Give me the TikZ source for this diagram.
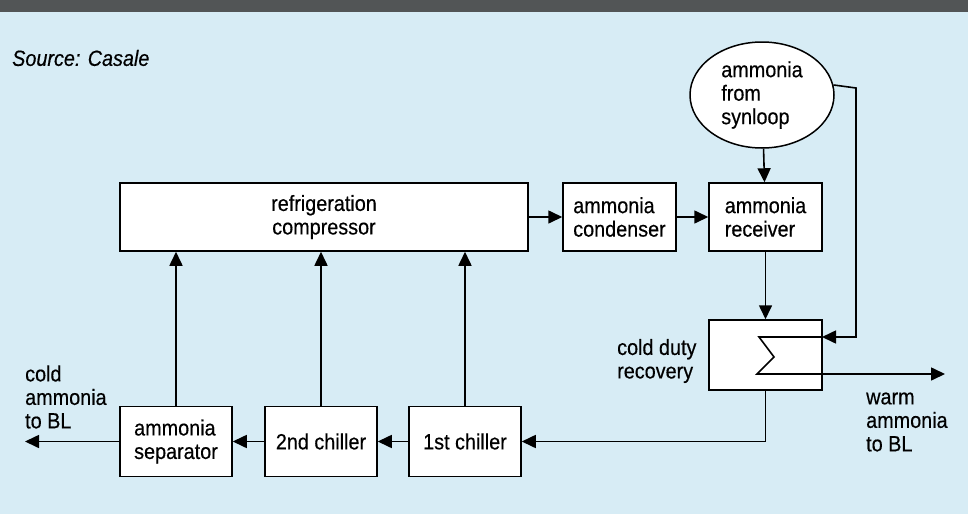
\documentclass[tikz,border=0pt]{standalone}
\usepackage{fontspec}
\setmainfont{Liberation Sans}[FakeStretch=0.9, FakeBold=0.4]
\usetikzlibrary{arrows.meta,shapes.geometric}
\definecolor{bgblue}{HTML}{D7ECF5}
\definecolor{bargray}{HTML}{525556}
\begin{document}
\begin{tikzpicture}[
    x=1pt, y=-1pt,
    mybox/.style={draw, fill=white, line width=1.5pt, minimum width=112pt, minimum height=70pt, align=left, inner sep=0pt},
    myflow/.style={-{Triangle[length=14pt, width=13pt]}, line width=1.6pt},
    myline/.style={line width=1.6pt},
    mylabel/.style={align=left, inner sep=0pt, anchor=west}
]
    \useasboundingbox (0, 0) rectangle (968, 514);
    \fontsize{22}{23.5}\selectfont

    % Background
    \fill[bgblue] (0, 0) rectangle (968, 514);
    \fill[bargray] (0, 0) rectangle (968, 12);
    \node[mylabel, font=\itshape] (src) at (12, 58) {Source: Casale};

    % Top row
    \node[mybox, minimum width=408pt, minimum height=68pt, align=center] (comp) at (324, 217) {refrigeration\\compressor};
    \node[mybox, minimum width=113pt, minimum height=68pt] (cond) at (619.5, 217) {ammonia\\condenser};
    \node[mybox, minimum width=113pt, minimum height=68pt] (recv) at (765.5, 217) {ammonia\\receiver};
    \node[draw, fill=white, ellipse, line width=1.5pt, minimum width=144pt, minimum height=106pt, inner sep=0pt, align=left] (syn) at (762, 95) {ammonia\\from\\synloop};

    % Cold duty recovery
    \node[mybox, minimum width=113pt] (cdr) at (765.5, 355) {};
    \node[mylabel] (cdrlabel) at (617, 361) {cold duty\\recovery};

    % Bottom row
    \node[mybox] (sep) at (176, 441.5) {ammonia\\separator};
    \node[mybox] (chtwo) at (321, 441.5) {2nd chiller};
    \node[mybox] (chone) at (465, 441.5) {1st chiller};

    % Free ends
    \coordinate (coldout) at (25, 441.5);
    \coordinate (warmout) at (945, 374);
    \coordinate (hxin) at (822, 337);
    \coordinate (bypass) at (856, 88);

    % Flows along the top
    \draw[myflow] (comp) -- (cond);
    \draw[myflow] (cond) -- (recv);
    \draw[myflow] (syn) -- (recv);
    \draw[myflow] (recv) -- (cdr);
    \draw[myflow] (syn.8) -- (bypass) |- (hxin);

    % Coil in the recovery box
    \draw[myline] (hxin) -- (759, 337) -- (774, 357) -- (757, 374) -- (cdr.east |- warmout);
    \draw[myflow] (cdr.east |- warmout) -- (warmout);

    % Flows along the bottom
    \draw[myflow] (cdr.south) |- (chone.east);
    \draw[myflow] (chone) -- (chtwo);
    \draw[myflow] (chtwo) -- (sep);
    \draw[myflow] (sep) -- (coldout);

    % Vapour back to the compressor
    \draw[myflow] (sep.north) -- (sep.north |- comp.south);
    \draw[myflow] (chtwo.north) -- (chtwo.north |- comp.south);
    \draw[myflow] (chone.north) -- (chone.north |- comp.south);

    % End labels
    \node[mylabel] (coldlabel) at (25, 397) {cold\\ammonia\\to BL};
    \node[mylabel] (warmlabel) at (866, 422) {warm\\ammonia\\to BL};
\end{tikzpicture}
\end{document}
